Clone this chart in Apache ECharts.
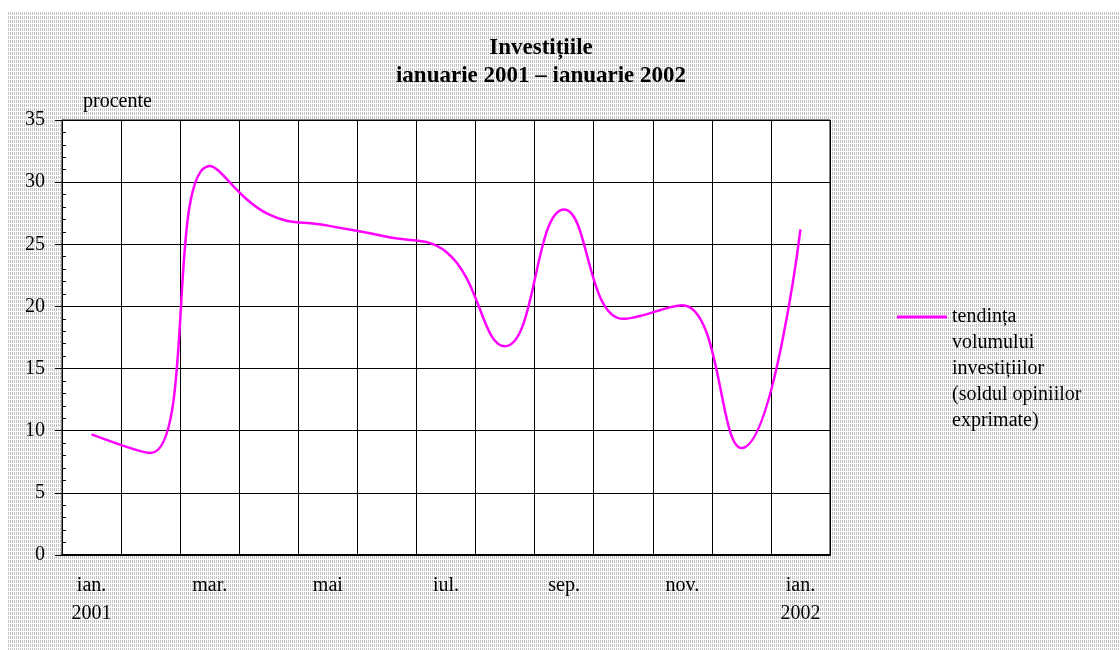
<!DOCTYPE html>
<html>
<head>
<meta charset="utf-8">
<script src="https://cdn.jsdelivr.net/npm/echarts@6/dist/echarts.min.js"></script>
<style>
  html, body { margin: 0; padding: 0; background: #fff; }
  #main { width: 1120px; height: 650px; }
</style>
</head>
<body>
<div id="main"></div>
<script>
// luni: ian. 2001 - ian. 2002
var luni = ['ian.\n2001', 'feb.', 'mar.', 'apr.', 'mai', 'iun.', 'iul.', 'aug.', 'sep.', 'oct.', 'nov.', 'dec.', 'ian.\n2002'];
// tendinta volumului investitiilor (procente)
var tendinta = [9.7, 8.2, 31.3, 27.4, 26.5, 25.6, 24.4, 16.8, 27.8, 19.0, 20.1, 8.6, 26.2];
var yMin = 0, yMax = 35, yPas = 5;
var numeSerie = 'tendința\nvolumului\ninvestițiilor\n(soldul opiniilor\nexprimate)';

// fundal hasurat gri
function patternCanvas () {
    var c = document.createElement('canvas');
    c.width = 2; c.height = 4;
    var ctx = c.getContext('2d');
    ctx.fillStyle = '#ffffff';
    ctx.fillRect(0, 0, 2, 4);
    ctx.fillStyle = '#c4c4c4';
    ctx.fillRect(0, 0, 1, 3);
    return c;
}

var font = '"Liberation Serif", "Times New Roman", serif';
var chart = echarts.init(document.getElementById('main'));
var option = {
    backgroundColor: '#fff',
    animation: false,
    textStyle: { fontFamily: font, color: '#000' },
    title: {
        text: 'Investițiile\nianuarie 2001 – ianuarie 2002',
        left: 536,
        top: 29,
        textAlign: 'center',
        textStyle: { fontFamily: font, fontWeight: 'bold', fontSize: 23, lineHeight: 28, color: '#000' }
    },
    graphic: [
        {
            type: 'rect',
            z: -10,
            shape: { x: 8, y: 11, width: 1112, height: 639 },
            style: { fill: { image: patternCanvas(), repeat: 'repeat' } }
        },
        {
            type: 'text',
            left: 83,
            top: 92,
            style: { text: 'procente', fontFamily: font, fontSize: 20, fill: '#000' }
        }
    ],
    legend: {
        left: 897,
        top: 200,
        padding: 0,
        itemWidth: 50,
        itemHeight: 3,
        itemGap: 4,
        icon: 'rect',
        data: [numeSerie],
        formatter: function (name) {
            // spatiu gol sus ca simbolul sa stea in dreptul primului rand
            return '{sp| }\n' + name.split('\n').map(function (r) { return '{t|' + r + '}'; }).join('\n');
        },
        textStyle: {
            fontFamily: font, fontSize: 20, color: '#000',
            rich: {
                sp: { height: 104, lineHeight: 104, fontSize: 2 },
                t: { fontFamily: font, fontSize: 20, lineHeight: 26, color: '#000' }
            }
        }
    },
    grid: {
        left: 62,
        right: 290,
        top: 120,
        bottom: 95,
        show: true,
        backgroundColor: '#fff',
        borderColor: '#000',
        borderWidth: 1
    },
    xAxis: {
        type: 'category',
        data: luni,
        boundaryGap: true,
        axisLine: { lineStyle: { color: '#000', width: 2 } },
        axisTick: { show: false },
        axisLabel: { interval: 1, margin: 17, fontFamily: font, fontSize: 20, lineHeight: 28, color: '#000' },
        splitLine: { show: true, interval: 0, lineStyle: { color: '#000', width: 1 } }
    },
    yAxis: [
        {
            type: 'value',
            min: yMin,
            max: yMax,
            interval: yPas,
            axisLine: { show: true, lineStyle: { color: '#000', width: 1 } },
            axisTick: { show: true, length: 7, lineStyle: { color: '#000' } },
            axisLabel: { margin: 17, fontFamily: font, fontSize: 20, color: '#000' },
            splitLine: { show: true, lineStyle: { color: '#000', width: 1 } }
        },
        {
            type: 'value',
            position: 'left',
            min: yMin,
            max: yMax,
            interval: yPas,
            axisLine: { show: false },
            axisTick: { show: false, inside: true },
            minorTick: { show: true, splitNumber: 5, length: 4, lineStyle: { color: '#000' } },
            axisLabel: { show: false },
            splitLine: { show: false }
        }
    ],
    series: [
        {
            name: numeSerie,
            type: 'line',
            yAxisIndex: 0,
            data: tendinta,
            smooth: 0.45,
            showSymbol: false,
            symbol: 'none',
            lineStyle: { color: '#ff00ff', width: 2.5 },
            itemStyle: { color: '#ff00ff' }
        }
    ]
};
chart.setOption(option);
</script>
</body>
</html>
